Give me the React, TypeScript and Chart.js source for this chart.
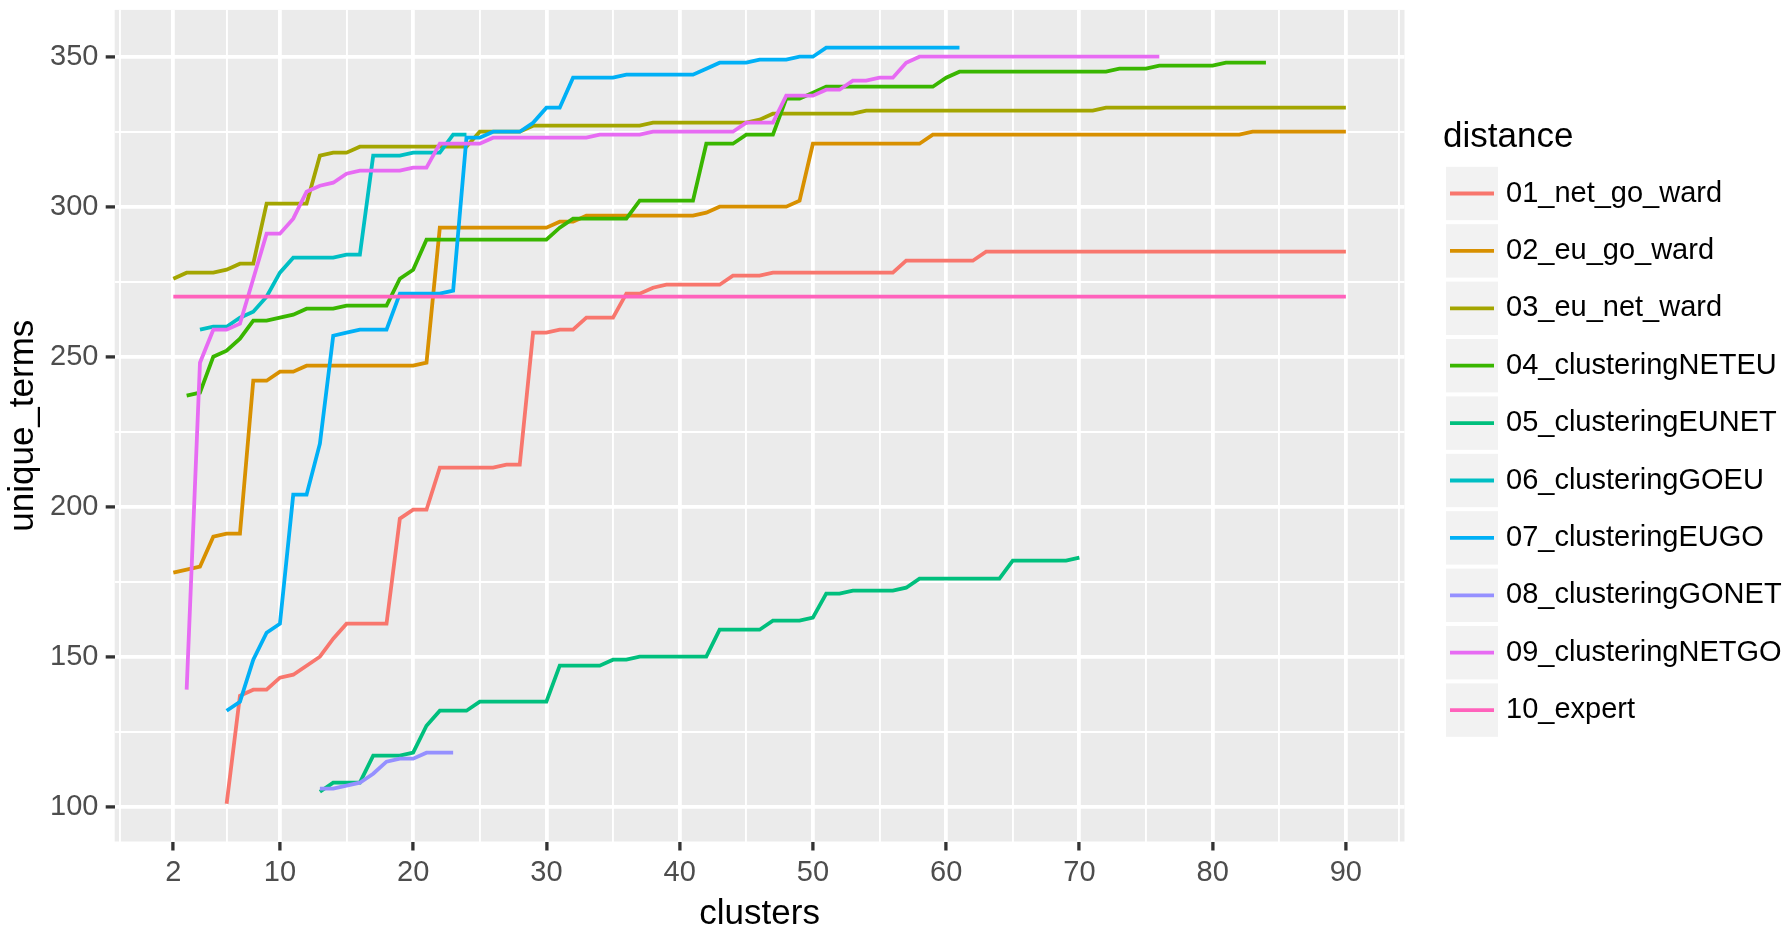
import React, { useEffect, useRef } from 'react';
import { Chart, registerables } from 'chart.js';

Chart.register(...registerables);

const FONT = '"Liberation Sans", Arial, Helvetica, sans-serif';

// ---- data ----
const seriesNames = [
  '01_net_go_ward',
  '02_eu_go_ward',
  '03_eu_net_ward',
  '04_clusteringNETEU',
  '05_clusteringEUNET',
  '06_clusteringGOEU',
  '07_clusteringEUGO',
  '08_clusteringGONET',
  '09_clusteringNETGO',
  '10_expert',
];

const seriesColors = [
  '#F8766D',
  '#D89000',
  '#A3A500',
  '#39B600',
  '#00BF7D',
  '#00BFC4',
  '#00B0F6',
  '#9590FF',
  '#E76BF3',
  '#FF62BC',
];

// first cluster count of each series
const seriesStart = [6, 2, 2, 3, 13, 4, 6, 13, 3, 2];

const netGoWard = [
  101, 137, 139, 139, 143, 144, 147, 150, 156, 161,
  161, 161, 161, 196, 199, 199, 213, 213, 213, 213,
  213, 214, 214, 258, 258, 259, 259, 263, 263, 263,
  271, 271, 273, 274, 274, 274, 274, 274, 277, 277,
  277, 278, 278, 278, 278, 278, 278, 278, 278, 278,
  278, 282, 282, 282, 282, 282, 282, 285, 285, 285,
  285, 285, 285, 285, 285, 285, 285, 285, 285, 285,
  285, 285, 285, 285, 285, 285, 285, 285, 285, 285,
  285, 285, 285, 285, 285,
];

const euGoWard = [
  178, 179, 180, 190, 191, 191, 242, 242, 245, 245,
  247, 247, 247, 247, 247, 247, 247, 247, 247, 248,
  293, 293, 293, 293, 293, 293, 293, 293, 293, 295,
  295, 297, 297, 297, 297, 297, 297, 297, 297, 297,
  298, 300, 300, 300, 300, 300, 300, 302, 321, 321,
  321, 321, 321, 321, 321, 321, 321, 324, 324, 324,
  324, 324, 324, 324, 324, 324, 324, 324, 324, 324,
  324, 324, 324, 324, 324, 324, 324, 324, 324, 324,
  324, 325, 325, 325, 325, 325, 325, 325, 325,
];

const euNetWard = [
  276, 278, 278, 278, 279, 281, 281, 301, 301, 301,
  301, 317, 318, 318, 320, 320, 320, 320, 320, 320,
  320, 320, 320, 325, 325, 325, 325, 327, 327, 327,
  327, 327, 327, 327, 327, 327, 328, 328, 328, 328,
  328, 328, 328, 328, 329, 331, 331, 331, 331, 331,
  331, 331, 332, 332, 332, 332, 332, 332, 332, 332,
  332, 332, 332, 332, 332, 332, 332, 332, 332, 332,
  333, 333, 333, 333, 333, 333, 333, 333, 333, 333,
  333, 333, 333, 333, 333, 333, 333, 333, 333,
];

const clusteringNETEU = [
  237, 238, 250, 252, 256, 262, 262, 263, 264, 266,
  266, 266, 267, 267, 267, 267, 276, 279, 289, 289,
  289, 289, 289, 289, 289, 289, 289, 289, 293, 296,
  296, 296, 296, 296, 302, 302, 302, 302, 302, 321,
  321, 321, 324, 324, 324, 336, 336, 338, 340, 340,
  340, 340, 340, 340, 340, 340, 340, 343, 345, 345,
  345, 345, 345, 345, 345, 345, 345, 345, 345, 345,
  346, 346, 346, 347, 347, 347, 347, 347, 348, 348,
  348, 348,
];

const clusteringEUNET = [
  105, 108, 108, 108, 117, 117, 117, 118, 127, 132,
  132, 132, 135, 135, 135, 135, 135, 135, 147, 147,
  147, 147, 149, 149, 150, 150, 150, 150, 150, 150,
  159, 159, 159, 159, 162, 162, 162, 163, 171, 171,
  172, 172, 172, 172, 173, 176, 176, 176, 176, 176,
  176, 176, 182, 182, 182, 182, 182, 183,
];

const clusteringGOEU = [
  259, 260, 260, 263, 265, 270, 278, 283, 283, 283,
  283, 284, 284, 317, 317, 317, 318, 318, 318, 324,
  324,
];

const clusteringEUGO = [
  132, 135, 149, 158, 161, 204, 204, 221, 257, 258,
  259, 259, 259, 271, 271, 271, 271, 272, 323, 323,
  325, 325, 325, 328, 333, 333, 343, 343, 343, 343,
  344, 344, 344, 344, 344, 344, 346, 348, 348, 348,
  349, 349, 349, 350, 350, 353, 353, 353, 353, 353,
  353, 353, 353, 353, 353, 353,
];

const clusteringGONET = [
  106, 106, 107, 108, 111, 115, 116, 116, 118, 118,
  118,
];

const clusteringNETGO = [
  139, 248, 259, 259, 261, 276, 291, 291, 296, 305,
  307, 308, 311, 312, 312, 312, 312, 313, 313, 321,
  321, 321, 321, 323, 323, 323, 323, 323, 323, 323,
  323, 324, 324, 324, 324, 325, 325, 325, 325, 325,
  325, 325, 328, 328, 328, 337, 337, 337, 339, 339,
  342, 342, 343, 343, 348, 350, 350, 350, 350, 350,
  350, 350, 350, 350, 350, 350, 350, 350, 350, 350,
  350, 350, 350, 350,
];

const expert = [
  270, 270, 270, 270, 270, 270, 270, 270, 270, 270,
  270, 270, 270, 270, 270, 270, 270, 270, 270, 270,
  270, 270, 270, 270, 270, 270, 270, 270, 270, 270,
  270, 270, 270, 270, 270, 270, 270, 270, 270, 270,
  270, 270, 270, 270, 270, 270, 270, 270, 270, 270,
  270, 270, 270, 270, 270, 270, 270, 270, 270, 270,
  270, 270, 270, 270, 270, 270, 270, 270, 270, 270,
  270, 270, 270, 270, 270, 270, 270, 270, 270, 270,
  270, 270, 270, 270, 270, 270, 270, 270, 270,
];

const seriesValues = [
  netGoWard, euGoWard, euNetWard, clusteringNETEU, clusteringEUNET,
  clusteringGOEU, clusteringEUGO, clusteringGONET, clusteringNETGO, expert,
];

const xMajorTicks = [2, 10, 20, 30, 40, 50, 60, 70, 80, 90];
const xMinorTicks = [-2, 6, 15, 25, 35, 45, 55, 65, 75, 85, 94];
const yMajorTicks = [100, 150, 200, 250, 300, 350];
const yMinorTicks = [125, 175, 225, 275, 325];

const xTitle = 'clusters';
const yTitle = 'unique_terms';
const legendTitle = 'distance';

// ---- plugins ----
const panelBackground = {
  id: 'panelBackground',
  beforeDraw(chart: any) {
    const { ctx, chartArea } = chart;
    ctx.save();
    ctx.fillStyle = '#EBEBEB';
    ctx.fillRect(chartArea.left, chartArea.top, chartArea.right - chartArea.left, chartArea.bottom - chartArea.top);
    ctx.restore();
  },
};

const ggLegend = {
  id: 'ggLegend',
  afterDraw(chart: any) {
    const { ctx } = chart;
    const ds = chart.data.datasets;
    ctx.save();
    ctx.fillStyle = '#000000';
    ctx.textBaseline = 'middle';
    ctx.textAlign = 'left';
    ctx.font = `35px ${FONT}`;
    ctx.fillText(legendTitle, 1443, 137);
    const keyLeft = 1446;
    const keyW = 52;
    const keyH = 53.4;
    const step = 57.4;
    const firstCenter = 193.5;
    ds.forEach((d: any, i: number) => {
      const cy = firstCenter + i * step;
      ctx.fillStyle = '#F2F2F2';
      ctx.fillRect(keyLeft, cy - keyH / 2, keyW, keyH);
      ctx.strokeStyle = d.borderColor;
      ctx.lineWidth = 3.8;
      ctx.lineCap = 'butt';
      ctx.beginPath();
      ctx.moveTo(keyLeft + 4, cy);
      ctx.lineTo(keyLeft + keyW - 4, cy);
      ctx.stroke();
      ctx.fillStyle = '#000000';
      ctx.font = `29px ${FONT}`;
      ctx.fillText(d.label, 1506, cy);
    });
    ctx.restore();
  },
};

export default function App() {
  const canvasRef = useRef<HTMLCanvasElement | null>(null);

  useEffect(() => {
    document.body.style.margin = '0';
    const canvas = canvasRef.current;
    if (!canvas) return;

    const datasets = seriesNames.map((name, i) => ({
      label: name,
      data: seriesValues[i].map((v, j) => ({ x: seriesStart[i] + j, y: v })),
      borderColor: seriesColors[i],
      backgroundColor: seriesColors[i],
      borderWidth: 3.8,
      pointRadius: 0,
      pointHoverRadius: 0,
      fill: false,
      tension: 0,
      order: seriesNames.length - 1 - i,
    }));

    const xAll = [...xMajorTicks, ...xMinorTicks].sort((a, b) => a - b);
    const yAll = [...yMajorTicks, ...yMinorTicks].sort((a, b) => a - b);

    const chart = new Chart(canvas, {
      type: 'line',
      data: { datasets },
      options: {
        animation: false,
        responsive: true,
        maintainAspectRatio: false,
        layout: { padding: { left: 0, top: 9.9, right: 380.5, bottom: 0 } },
        plugins: {
          legend: { display: false },
          tooltip: { enabled: false },
        },
        scales: {
          x: {
            type: 'linear',
            min: -2.4,
            max: 94.4,
            afterBuildTicks: (scale: any) => {
              scale.ticks = xAll.map((v) => ({ value: v }));
            },
            afterFit: (scale: any) => {
              scale.height = 83.5;
              scale.paddingLeft = 0;
              scale.paddingRight = 0;
            },
            ticks: {
              autoSkip: false,
              maxRotation: 0,
              minRotation: 0,
              padding: 5.5,
              color: '#4D4D4D',
              font: { family: FONT, size: 29 },
              callback: (v: any) => (xMajorTicks.includes(Number(v)) ? String(v) : ''),
            },
            grid: {
              color: '#FFFFFF',
              lineWidth: (c: any) => (c.tick && xMajorTicks.includes(c.tick.value) ? 3.8 : 1.9),
              drawTicks: true,
              tickLength: 9,
              tickWidth: 3.3,
              tickColor: (c: any) => (c.tick && xMajorTicks.includes(c.tick.value) ? '#333333' : 'rgba(0,0,0,0)'),
            },
            border: { display: false },
            title: {
              display: true,
              text: xTitle,
              color: '#000000',
              font: { family: FONT, size: 35, lineHeight: 0.6 },
              padding: 0,
            },
          },
          y: {
            type: 'linear',
            min: 88.4,
            max: 365.6,
            afterBuildTicks: (scale: any) => {
              scale.ticks = yAll.map((v) => ({ value: v }));
            },
            afterFit: (scale: any) => {
              scale.width = 114.7;
              scale.paddingTop = 0;
              scale.paddingBottom = 0;
            },
            ticks: {
              autoSkip: false,
              padding: 7.3,
              color: '#4D4D4D',
              font: { family: FONT, size: 29 },
              callback: (v: any) => (yMajorTicks.includes(Number(v)) ? String(v) : ''),
            },
            grid: {
              color: '#FFFFFF',
              lineWidth: (c: any) => (c.tick && yMajorTicks.includes(c.tick.value) ? 3.8 : 1.9),
              drawTicks: true,
              tickLength: 9,
              tickWidth: 3.3,
              tickColor: (c: any) => (c.tick && yMajorTicks.includes(c.tick.value) ? '#333333' : 'rgba(0,0,0,0)'),
            },
            border: { display: false },
            title: {
              display: true,
              text: yTitle,
              color: '#000000',
              font: { family: FONT, size: 35, lineHeight: 1.2 },
              padding: { top: 2, bottom: 0 },
            },
          },
        },
      },
      plugins: [panelBackground, ggLegend],
    } as any);

    return () => {
      chart.destroy();
    };
  }, []);

  return (
    <div style={{ position: 'fixed', left: 0, top: 0, width: 1785, height: 925, background: '#FFFFFF' }}>
      <canvas ref={canvasRef} />
    </div>
  );
}
